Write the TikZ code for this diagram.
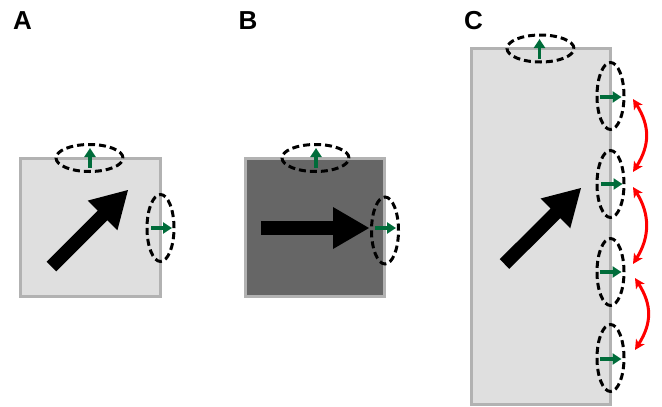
\documentclass[tikz,border=0pt]{standalone}
\usepackage{fontspec}
\setmainfont{Liberation Sans}
\usetikzlibrary{arrows.meta,calc,shapes.geometric}
\definecolor{boxborder}{RGB}{178,178,178}
\definecolor{lightfill}{RGB}{223,223,223}
\definecolor{darkfill}{RGB}{102,102,102}
\definecolor{grn}{RGB}{0,108,58}
\definecolor{redarr}{RGB}{255,0,0}
\newcommand\mybigarrow[2]{%
  \coordinate (#1base) at ($(#2)!36pt!(#1)$);
  \fill[black] ($(#1)!6.8pt!90:(#2)$) -- ($(#1base)!6.8pt!90:(#2)$) -- ($(#1base)!21pt!90:(#2)$) -- (#2)
    -- ($(#1base)!21pt!-90:(#2)$) -- ($(#1base)!6.8pt!-90:(#2)$) -- ($(#1)!6.8pt!-90:(#2)$) -- cycle;}
\tikzset{
  panelbox/.style={draw=boxborder, line width=3pt},
  dashell/.style={ellipse, draw=black, line width=3pt, dash pattern=on 7pt off 4pt, inner sep=0pt, fill=none},
  hell/.style={dashell, minimum width=67pt, minimum height=27pt},
  vell/.style={dashell, minimum width=27pt, minimum height=67pt},
  greenarrow/.style={draw=grn, line width=3.3pt, -{Triangle[length=9pt,width=11pt]}},
  redarrow/.style={draw=redarr, line width=3pt, {Stealth[length=10pt,width=10pt,inset=2.5pt]}-{Stealth[length=10pt,width=10pt,inset=2.5pt]}},
  paneltitle/.style={anchor=base west, inner sep=0pt, font=\fontsize{26}{30}\selectfont\bfseries}
}
\begin{document}
\begin{tikzpicture}[x=1pt,y=-1pt]
\useasboundingbox (0,0) rectangle (662,407);
% titles
\node[paneltitle] (labA) at (13,29) {A};
\node[paneltitle] (labB) at (238.5,29) {B};
\node[paneltitle] (labC) at (464,29) {C};
% boxes
\draw[panelbox, fill=lightfill] (20,158) rectangle (160,296.7);
\draw[panelbox, fill=darkfill] (245.3,158.5) rectangle (384.3,296.7);
\draw[panelbox, fill=lightfill] (471.5,48) rectangle (610.5,404);
% big arrows
\coordinate (ta) at (51.5,266.5); \coordinate (pa) at (128,190);
\mybigarrow{ta}{pa}
\coordinate (tb) at (261,228); \coordinate (pb) at (369,228);
\mybigarrow{tb}{pb}
\coordinate (tc) at (504.5,264); \coordinate (pc) at (581,188);
\mybigarrow{tc}{pc}
% ellipses
\node[hell] (eAt) at (89.5,158) {};
\node[vell] (eAr) at (160.5,228) {};
\node[hell] (eBt) at (315.5,158) {};
\node[vell] (eBr) at (385,230.5) {};
\node[hell] (eCt) at (540.5,48.5) {};
\node[vell] (eC1) at (610.5,96) {};
\node[vell] (eC2) at (610.5,184) {};
\node[vell] (eC3) at (610.5,272) {};
\node[vell] (eC4) at (610.5,358) {};
% green arrows
\coordinate (gAt0) at (90,167.5); \coordinate (gAt1) at (90,148);
\coordinate (gAr0) at (151,228); \coordinate (gAr1) at (172,228);
\coordinate (gBt0) at (316,168); \coordinate (gBt1) at (316,148);
\coordinate (gBr0) at (375,228); \coordinate (gBr1) at (396,228);
\coordinate (gCt0) at (539.5,59); \coordinate (gCt1) at (539.5,39);
\coordinate (gC10) at (600,97); \coordinate (gC11) at (621.5,97);
\coordinate (gC20) at (601,184); \coordinate (gC21) at (622.5,184);
\coordinate (gC30) at (600,272); \coordinate (gC31) at (621.5,272);
\coordinate (gC40) at (600,359); \coordinate (gC41) at (621.5,359);
\foreach \g in {At,Ar,Bt,Br,Ct,C1,C2,C3,C4}{\draw[greenarrow] (g\g0) -- (g\g1);}
% red arrows
\coordinate (r1a) at (633,99); \coordinate (r1b) at (633,172);
\coordinate (r2a) at (633,187); \coordinate (r2b) at (633,264);
\coordinate (r3a) at (635,278); \coordinate (r3b) at (635,350);
\foreach \r in {1,2,3}{\draw[redarrow] (r\r a) .. controls +(17,27) and +(17,-27) .. (r\r b);}
\end{tikzpicture}
\end{document}
